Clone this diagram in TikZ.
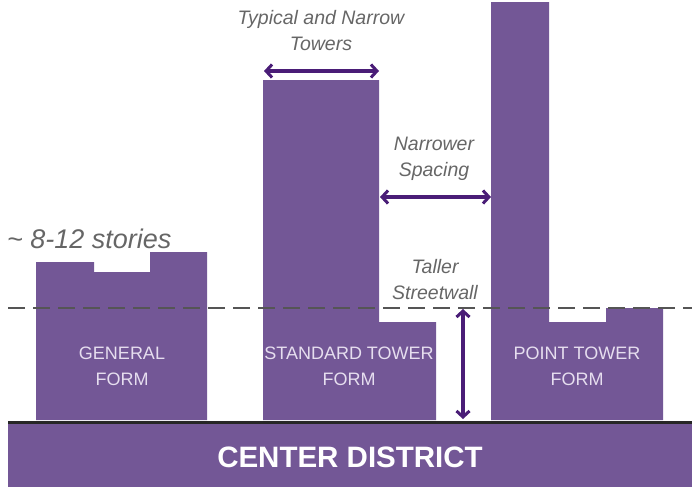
\documentclass[tikz,border=0pt]{standalone}
\usepackage{fontspec}
\setmainfont{Liberation Sans}
\usetikzlibrary{arrows.meta}
\definecolor{bldg}{HTML}{735796}
\definecolor{arr}{HTML}{4A1D77}
\definecolor{lbl}{HTML}{E6DEEF}
\definecolor{note}{HTML}{666666}
\definecolor{dashgray}{HTML}{555555}
\tikzset{
  mass/.style={fill=bldg,draw=none},
  formlbl/.style={text=lbl,font=\fontsize{18}{26}\selectfont,align=center,inner sep=0pt},
  notelbl/.style={text=note,font=\itshape\fontsize{19.5}{26}\selectfont,align=center,inner sep=0pt},
  dimarrow/.style={draw=arr,line width=3.2pt,{Straight Barb[length=6pt,width=13pt,line width=3pt]}-{Straight Barb[length=6pt,width=13pt,line width=3pt]}}
}
\begin{document}
\begin{tikzpicture}[x=1pt,y=-1pt]
\useasboundingbox (0,0) rectangle (692,490);
% general form
\fill[mass] (36,420) -- (36,262) -- (94,262) -- (94,272) -- (150,272) -- (150,252) -- (207,252) -- (207,420) -- cycle;
% standard tower form
\fill[mass] (263,420) -- (263,80) -- (379,80) -- (379,322) -- (436,322) -- (436,420) -- cycle;
% point tower form
\fill[mass] (491,420) -- (491,2) -- (549,2) -- (549,322) -- (606,322) -- (606,308) -- (663,308) -- (663,420) -- cycle;
% district bar
\fill[mass] (8,424) rectangle (692,487);
\draw[line width=3.5pt,draw=black!85] (8,422.5) -- (692,422.5);
% dashed streetwall line
\draw[draw=dashgray,line width=2.6pt,dash pattern=on 17pt off 8pt] (8,308) -- (692,308);
% coordinates
\coordinate (twL) at (264,71);
\coordinate (twR) at (379,71);
\coordinate (spL) at (380,197);
\coordinate (spR) at (491,197);
\coordinate (swT) at (463,309);
\coordinate (swB) at (463,419);
\draw[dimarrow] (twL) -- (twR);
\draw[dimarrow] (spL) -- (spR);
\draw[dimarrow] (swT) -- (swB);
% labels
\node[notelbl] (typ) at (321,31) {Typical and Narrow\\Towers};
\node[notelbl] (nar) at (434,159) {Narrower\\Spacing};
\node[notelbl] (tal) at (435,280) {Taller\\Streetwall};
\node[text=note,font=\itshape\fontsize{27}{30}\selectfont,anchor=west,inner sep=0pt] (sto) at (7,239) {\textasciitilde\ 8-12 stories};
\node[formlbl] (gen) at (122,366) {GENERAL\\FORM};
\node[formlbl] (std) at (349,366) {STANDARD TOWER\\FORM};
\node[formlbl] (pt) at (577,366) {POINT TOWER\\FORM};
\node[text=white,font=\bfseries\fontsize{29.5}{34}\selectfont,inner sep=0pt] (cd) at (350,457) {CENTER DISTRICT};
\end{tikzpicture}
\end{document}
